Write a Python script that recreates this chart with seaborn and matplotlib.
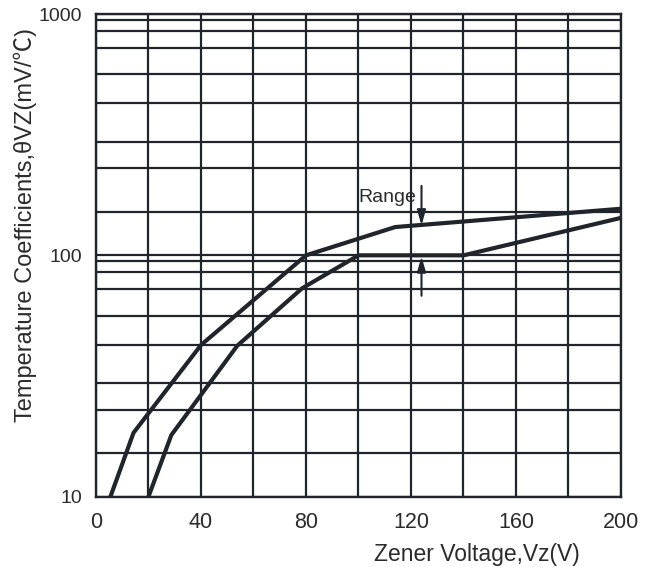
import numpy as np
import pandas as pd
import matplotlib.pyplot as plt
import seaborn as sns

# Curve vertices (x in V, y in mV/degC)
upper_vz = [5.5, 14.3, 40, 80, 114, 200]
upper_tc = [10, 18.4, 42.5, 100, 131, 156]
lower_vz = [20, 28.7, 53.8, 78.5, 100, 140, 200]
lower_tc = [10, 18, 42.2, 73, 100, 100, 143]

x_ticks = [0, 40, 80, 120, 160, 200]
y_ticks = [10, 100, 1000]
# where the printed horizontal grid lines sit inside each decade (fraction of a decade)
grid_fracs = [0.18, 0.36, 0.47, 0.63, 0.75, 0.86, 0.93, 0.975]

# "Range" marker
range_x = 124
range_top = [194, 133]
range_bottom = [68, 99]

sns.set_style('white')
plt.rcParams['font.family'] = ['Liberation Sans', 'Noto Sans CJK SC', 'DejaVu Sans']

df = pd.concat([
    pd.DataFrame({'Vz': upper_vz, 'TC': upper_tc, 'curve': 'max'}),
    pd.DataFrame({'Vz': lower_vz, 'TC': lower_tc, 'curve': 'min'}),
])

ink = '#20252c'
txt = '#2b2b2b'

fig = plt.figure(figsize=(6.57, 5.67), dpi=100)
ax = fig.add_axes([0.1461, 0.124, 0.7991, 0.8513])

sns.lineplot(data=df, x='Vz', y='TC', hue='curve', palette=[ink, ink],
             estimator=None, sort=False, lw=3, legend=False, ax=ax, zorder=3)

ax.set_yscale('log')
ax.set_xlim(0, 200)
ax.set_ylim(10, 1000)

# grid
ax.set_xticks(x_ticks)
ax.set_xticks([20, 60, 100, 140, 180], minor=True)
ax.set_yticks(y_ticks)
ax.set_yticks([10 ** (d + f) for d in (1, 2) for f in grid_fracs], minor=True)
ax.set_yticklabels([str(v) for v in y_ticks])
ax.yaxis.set_minor_formatter(plt.NullFormatter())
ax.grid(which='both', color=ink, lw=1.6)
ax.set_axisbelow(True)
for s in ax.spines.values():
    s.set_color(ink)
    s.set_linewidth(1.7)

ax.tick_params(axis='both', which='both', length=0, colors=txt)
ax.tick_params(axis='y', labelsize=14, pad=10)
ax.tick_params(axis='x', labelsize=15.5, pad=11)

ax.set_xlabel('Zener Voltage,Vz(V)', fontsize=16.5, color=txt)
ax.xaxis.set_label_coords(0.726, -0.096)
ax.set_ylabel('Temperature Coefficients,θVZ(mV/℃)', fontsize=17, color=txt)
ax.yaxis.set_label_coords(-0.112, 0.563)

# range arrows
arrow = dict(arrowstyle='-|>,head_length=0.6,head_width=0.17', color=ink, lw=1.5,
             mutation_scale=15, shrinkA=0, shrinkB=0)
ax.annotate('', xy=(range_x, range_top[1]), xytext=(range_x, range_top[0]), arrowprops=arrow)
ax.annotate('', xy=(range_x, range_bottom[1]), xytext=(range_x, range_bottom[0]), arrowprops=arrow)
ax.text(100, 174, 'Range', fontsize=14, color=txt, ha='left', va='center')

fig.savefig('out.png', dpi=100)
